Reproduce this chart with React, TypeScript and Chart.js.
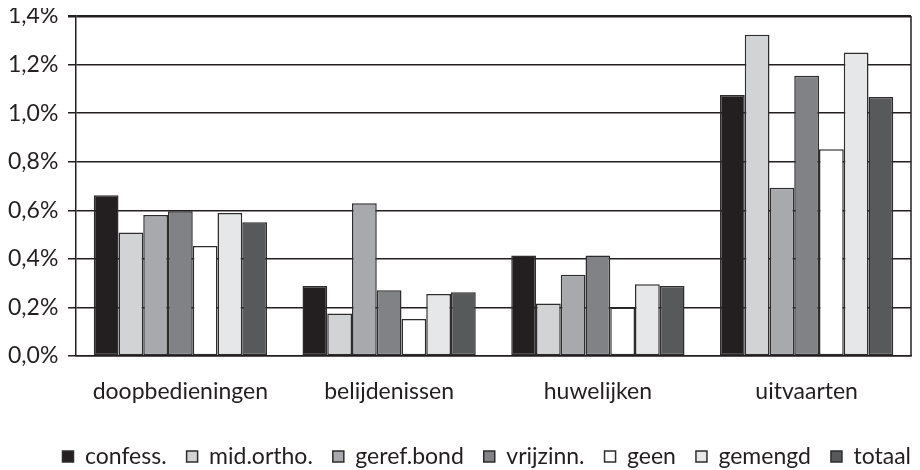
import React, { useEffect, useRef } from "react";
import { Chart, registerables } from "chart.js";

Chart.register(...registerables);

const categories = ["doopbedieningen", "belijdenissen", "huwelijken", "uitvaarten"];
const seriesNames = ["confess.", "mid.ortho.", "geref.bond", "vrijzinn.", "geen", "gemengd", "totaal"];
const confess = [0.662, 0.288, 0.414, 1.075];
const midOrtho = [0.509, 0.175, 0.216, 1.323];
const gerefBond = [0.581, 0.629, 0.335, 0.693];
const vrijzinn = [0.596, 0.271, 0.414, 1.154];
const geen = [0.453, 0.152, 0.2, 0.851];
const gemengd = [0.589, 0.255, 0.295, 1.25];
const totaal = [0.551, 0.263, 0.288, 1.067];
const seriesValues = [confess, midOrtho, gerefBond, vrijzinn, geen, gemengd, totaal];
const seriesColors = ["#231f20", "#d1d3d4", "#a7a9ac", "#808285", "#ffffff", "#e6e7e8", "#58595b"];
const yTicks = [0, 0.2, 0.4, 0.6, 0.8, 1.0, 1.2, 1.4];

const FONT = "Lato";
const INK = "#231f20";

const frame = {
  id: "frame",
  afterLayout(chart: any) {
    if (chart.legend) chart.legend.right += 20;
  },
  beforeDatasetsDraw(chart: any) {
    const { ctx, chartArea } = chart;
    ctx.save();
    ctx.strokeStyle = INK;
    ctx.lineWidth = 1.5;
    ctx.beginPath();
    ctx.moveTo(chartArea.right, chartArea.top);
    ctx.lineTo(chartArea.right, chartArea.bottom);
    ctx.stroke();
    ctx.restore();
  },
};

export default function App() {
  const ref = useRef<HTMLCanvasElement>(null);
  useEffect(() => {
    if (!ref.current) return;
    const chart = new Chart(ref.current, {
      type: "bar",
      data: {
        labels: categories,
        datasets: seriesNames.map((name, i) => ({
          label: name,
          data: seriesValues[i],
          backgroundColor: seriesColors[i],
          borderColor: "#2e2c2d",
          borderWidth: 1.5,
          borderSkipped: false,
          barPercentage: 1,
          categoryPercentage: 0.83,
        })),
      },
      options: {
        animation: false,
        responsive: true,
        maintainAspectRatio: false,
        layout: { padding: { top: 0, right: 1, left: 0, bottom: -8 } },
        plugins: {
          tooltip: { enabled: false },
          legend: {
            position: "bottom",
            align: "end",
            labels: {
              font: { family: FONT, size: 23 },
              color: INK,
              boxWidth: 11,
              boxHeight: 11,
              padding: 20,
            },
          },
        },
        scales: {
          x: {
            grid: { display: false },
            border: { display: true, color: INK, width: 1.5 },
            afterFit(scale: any) {
              scale.height = 69;
            },
            ticks: { font: { family: FONT, size: 23 }, color: INK, padding: 14 },
          },
          y: {
            min: 0,
            max: 1.4,
            afterFit(scale: any) {
              scale.width = 68;
            },
            afterBuildTicks(scale: any) {
              scale.ticks = yTicks.map((v) => ({ value: v }));
            },
            ticks: {
              font: { family: FONT, size: 23, lineHeight: 0.7 },
              color: INK,
              padding: 0,
              crossAlign: "far",
              callback: (v: any) => Number(v).toFixed(1).replace(".", ",") + "%",
            },
            grid: {
              color: INK,
              lineWidth: (c: any) => (c.tick && c.tick.value === 1.4 ? 2.5 : 1.5),
              tickLength: 8,
            },
            border: { display: true, color: INK, width: 1.5 },
          },
        },
      },
      plugins: [frame],
    });
    return () => chart.destroy();
  }, []);
  return (
    <div style={{ width: 904, height: 462 }}>
      <canvas ref={ref} />
    </div>
  );
}
